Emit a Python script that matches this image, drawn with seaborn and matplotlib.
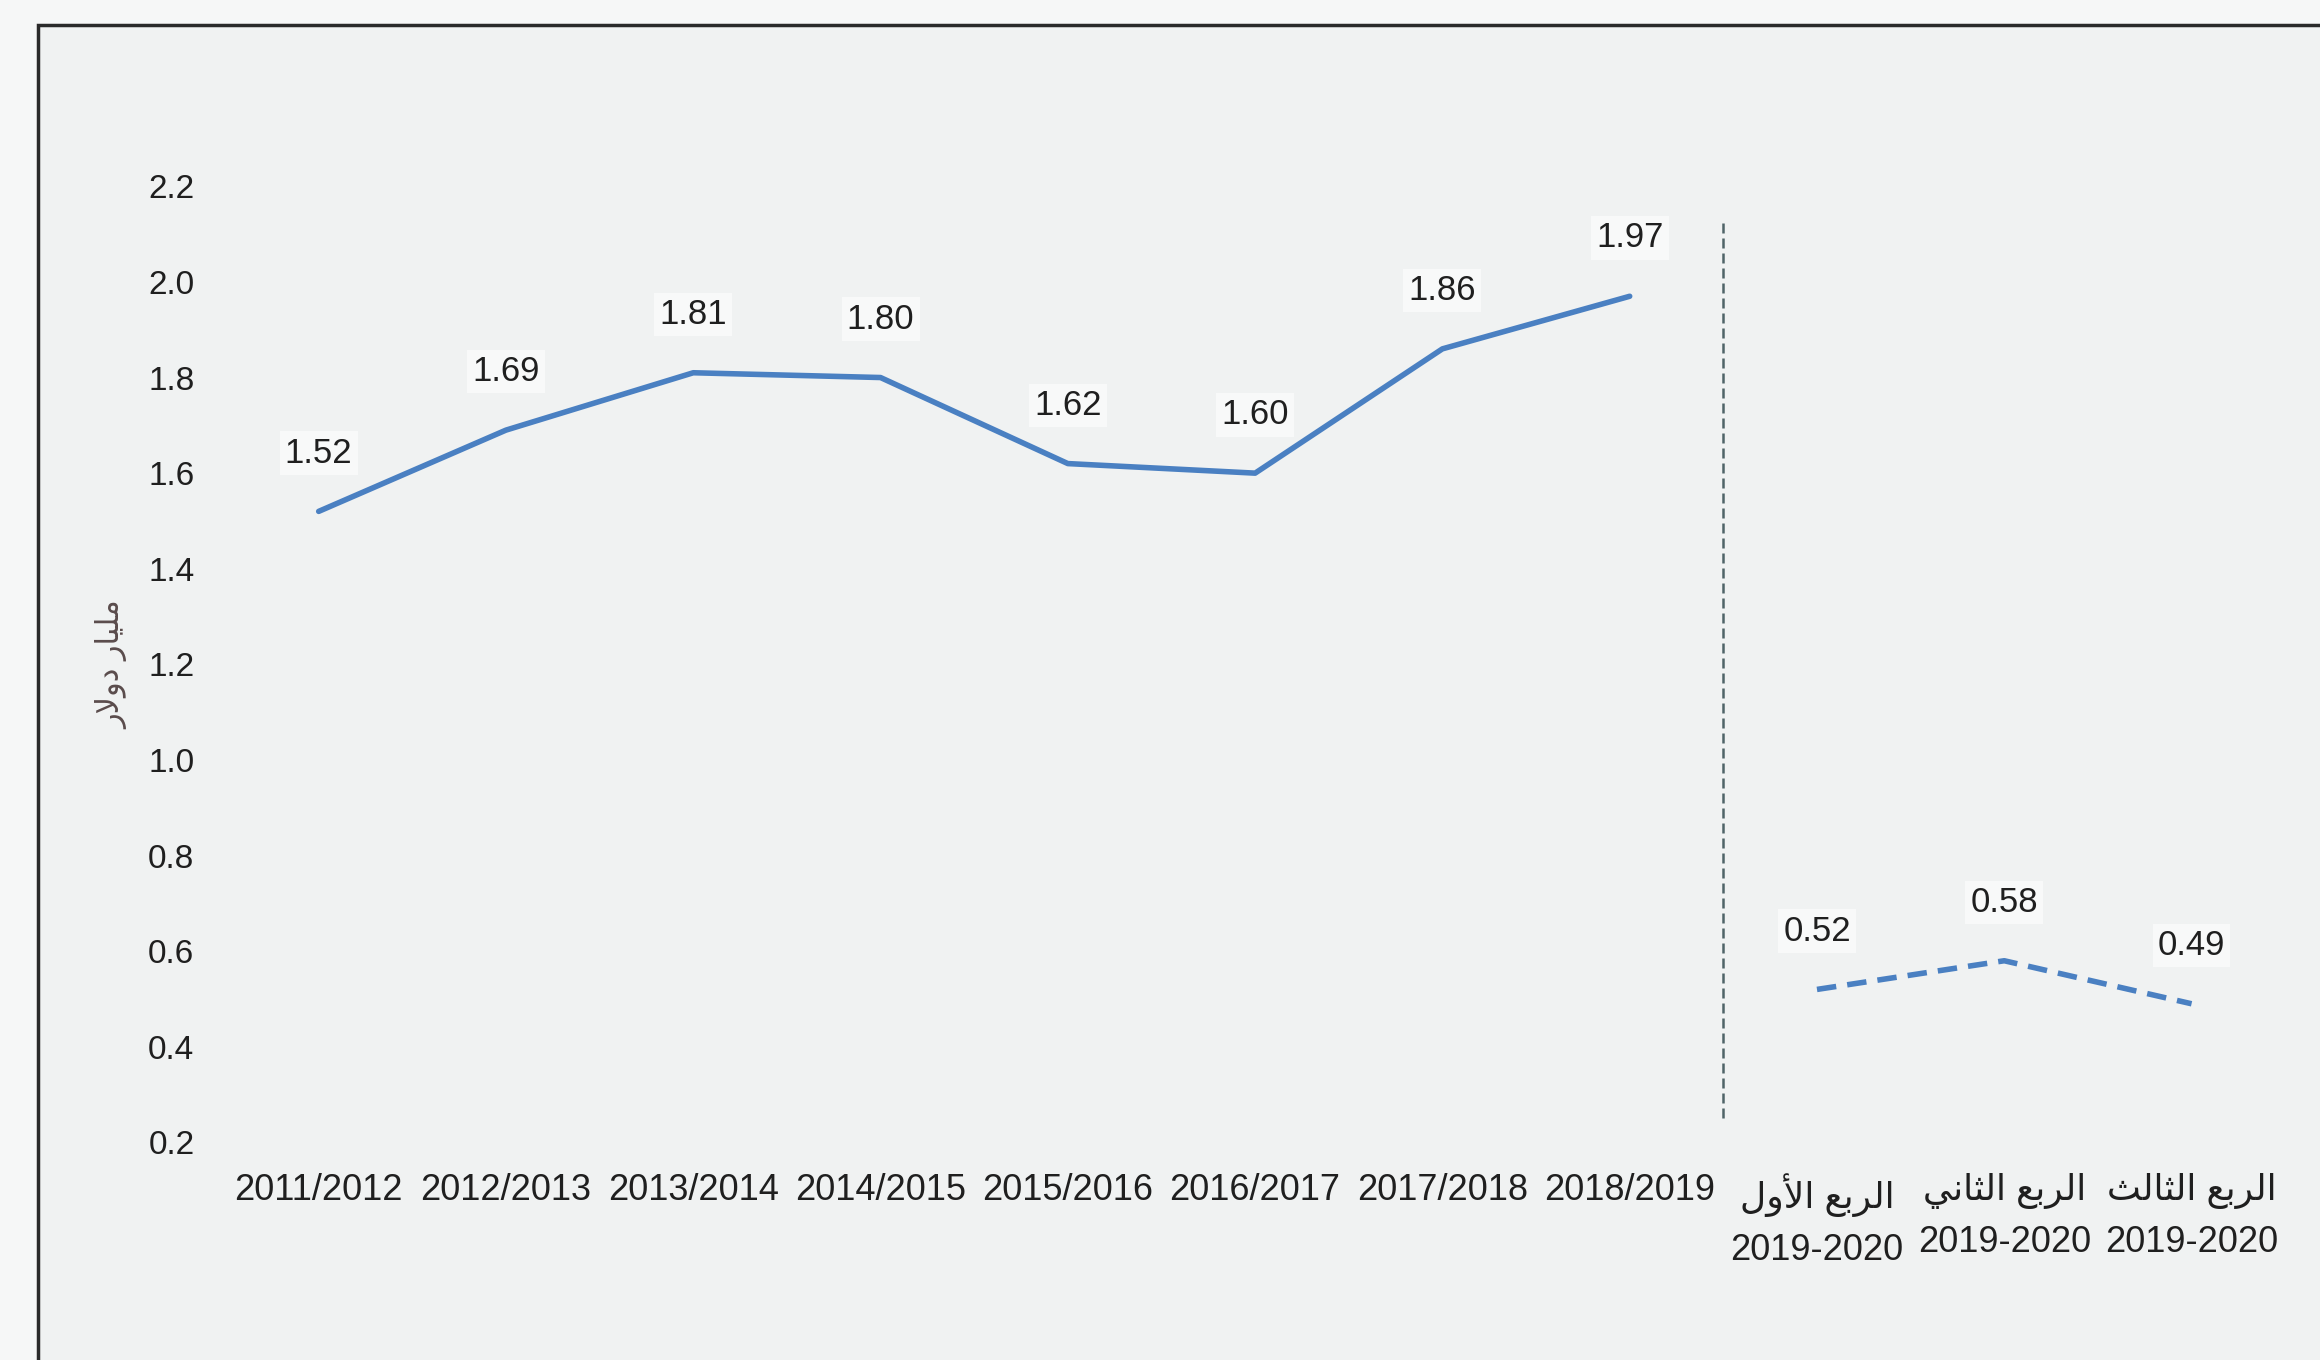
#!/usr/bin/env python
# -*- coding: UTF-8 -*-

import numpy as np
import pandas as pd
import matplotlib
matplotlib.use('Agg')
import matplotlib.pyplot as plt
from matplotlib.patches import Rectangle
import seaborn as sns


# Arabic text is stored pre-shaped (presentation forms, visual order),
# matplotlib has no bidi / shaping of its own
Q1 = '\ufedd\ufeed\ufef7\ufe8d \ufeca\ufe91\ufeae\ufedf\ufe8d'      # الربع الأول
Q2 = '\ufef2\ufee7\ufe8e\ufe9c\ufedf\ufe8d \ufeca\ufe91\ufeae\ufedf\ufe8d'  # الربع الثاني
Q3 = '\ufe9a\ufedf\ufe8e\ufe9c\ufedf\ufe8d \ufeca\ufe91\ufeae\ufedf\ufe8d'  # الربع الثالث
YLABEL = '\ufead\ufefb\ufeed\ufea9 \ufead\ufe8e\ufef4\ufee0\ufee3'   # مليار دولار

ANNUAL = ['2011/2012', '2012/2013', '2013/2014', '2014/2015',
          '2015/2016', '2016/2017', '2017/2018', '2018/2019']
ANNUAL_VALUES = [1.52, 1.69, 1.81, 1.80, 1.62, 1.60, 1.86, 1.97]

QUARTERS = [Q1 + '\n2019-2020', Q2 + '\n2019-2020', Q3 + '\n2019-2020']
QUARTER_VALUES = [0.52, 0.58, 0.49]

YTICKS = [0.2, 0.4, 0.6, 0.8, 1.0, 1.2, 1.4, 1.6, 1.8, 2.0, 2.2]

LINE_COLOR = '#4a80c2'
TEXT_COLOR = '#1f1f1f'


def plot_and_save(out_file):
	sns.set_theme(style = 'white')
	plt.rcParams['font.family'] = ['Liberation Sans Narrow', 'Liberation Sans', 'DejaVu Sans']

	labels = ANNUAL + QUARTERS
	df = pd.DataFrame({'pos': np.arange(len(labels)),
	                   'value': ANNUAL_VALUES + QUARTER_VALUES,
	                   'part': ['annual']*len(ANNUAL) + ['quarter']*len(QUARTERS)})

	fig = plt.figure(figsize = (23.2, 13.6), dpi = 100, facecolor = '#f6f7f7')
	fig.add_artist(Rectangle((38/2320, -0.05), 1.1, 1 - 25/1360 + 0.05, transform = fig.transFigure,
	                         facecolor = '#f0f2f2', edgecolor = '#2a2a2a', lw = 2.5, zorder = -1))

	ax = fig.add_axes([0.097, 0.160, 0.888, 0.703])
	ax.set_facecolor('none')

	annual = df[df['part'] == 'annual']
	quarter = df[df['part'] == 'quarter']
	sns.lineplot(data = annual, x = 'pos', y = 'value', sort = False, color = LINE_COLOR, lw = 4, ax = ax)
	sns.lineplot(data = quarter, x = 'pos', y = 'value', sort = False, color = LINE_COLOR, lw = 4,
	             dashes = False, ax = ax)
	ax.lines[-1].set_dashes([3.5, 2])

	# separator between yearly and quarterly figures
	ax.axvline(x = len(ANNUAL) - 0.5, ymin = 0.025, ymax = 0.965, color = '#4f6468', lw = 1.8,
	           ls = (0, (4, 2)))

	for x, v in zip(df['pos'], df['value']):
		ax.annotate('%.2f' % v, (x, v), xytext = (0, 42), textcoords = 'offset points',
		            ha = 'center', va = 'center', fontsize = 25, color = TEXT_COLOR,
		            bbox = dict(boxstyle = 'square,pad=0.15', facecolor = '#f8f9f9', edgecolor = 'none'))

	ax.set_xlim(-0.5, len(labels) - 0.5)
	ax.set_ylim(0.2, 2.2)
	ax.set_yticks(YTICKS)
	ax.set_yticklabels(['%.1f' % t for t in YTICKS], fontsize = 24, color = TEXT_COLOR)
	ax.set_xticks(df['pos'])
	ax.set_xticklabels(labels, fontsize = 26, color = TEXT_COLOR, linespacing = 1.6)
	ax.tick_params(axis = 'x', length = 0, pad = 22)
	ax.tick_params(axis = 'y', length = 0, pad = 22)
	ax.set_xlabel('')
	ax.set_ylabel(YLABEL, fontsize = 22, color = '#5a4c4c', labelpad = 14)
	for s in ax.spines.values():
		s.set_visible(False)

	fig.savefig(out_file, dpi = 100, facecolor = fig.get_facecolor())
	plt.close()


if __name__ == '__main__':

	plot_and_save('out.png')
